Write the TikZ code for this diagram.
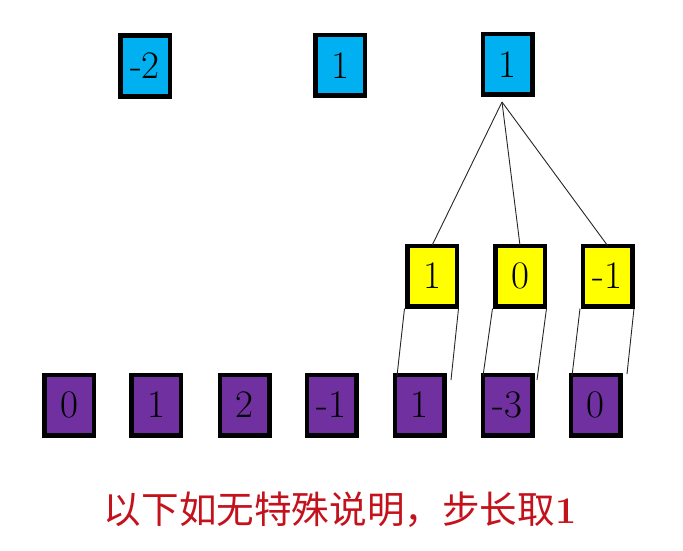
\documentclass[tikz,border=0pt]{standalone}
\usepackage{fontspec}
\newfontfamily\cjk{Noto Sans CJK SC}
\definecolor{topblue}{RGB}{0,176,240}
\definecolor{midyellow}{RGB}{255,255,0}
\definecolor{botpurple}{RGB}{112,48,160}
\definecolor{notered}{RGB}{196,18,28}
\begin{document}
\begin{tikzpicture}[x=1pt,y=-1pt,
  box/.style={draw=black,line width=4.5pt,minimum width=49.5pt,minimum height=60.5pt,inner sep=0pt,
    font=\fontsize{39}{41}\selectfont},
  bluebox/.style={box,fill=topblue},
  yellowbox/.style={box,fill=midyellow},
  purplebox/.style={box,fill=botpurple},
  link/.style={draw=black!85,line width=0.9pt}]
\useasboundingbox (0,0) rectangle (683,551);
% top row
\node[bluebox] (t1) at (145,66) {-2};
\node[bluebox] (t2) at (340,65.5) {1};
\node[bluebox] (t3) at (507.5,64.5) {1};
% middle row
\node[yellowbox] (y1) at (432,276) {1};
\node[yellowbox] (y2) at (520,276) {0};
\node[yellowbox] (y3) at (607.5,276) {-1};
% bottom row
\node[purplebox] (p1) at (69,405) {0};
\node[purplebox] (p2) at (156,405) {1};
\node[purplebox] (p3) at (244.5,405) {2};
\node[purplebox] (p4) at (331.5,405) {-1};
\node[purplebox] (p5) at (419.5,405) {1};
\node[purplebox] (p6) at (507.5,405) {-3};
\node[purplebox] (p7) at (595.5,405) {0};
% connectors
\coordinate (apex) at (502,102);
\coordinate (a1) at (397,376);
\coordinate (b1) at (451,380);
\coordinate (a2) at (483,376);
\coordinate (b2) at (537,380);
\coordinate (a3) at (572,376);
\coordinate (b3) at (627,374);
\draw[link] (apex) -- ([yshift=-2pt]y1.north);
\draw[link] (apex) -- ([yshift=-2pt]y2.north);
\draw[link] (apex) -- ([yshift=-2pt]y3.north);
\draw[link] ([xshift=-0.5pt]y1.south west) -- (a1);
\draw[link] ([xshift=-0.5pt]y1.south east) -- (b1);
\draw[link] ([xshift=-0.5pt]y2.south west) -- (a2);
\draw[link] ([xshift=-0.5pt]y2.south east) -- (b2);
\draw[link] ([xshift=-0.5pt]y3.south west) -- (a3);
\draw[link] ([xshift=-0.5pt]y3.south east) -- (b3);
% caption
\node[text=notered,inner sep=0pt] (cap) at (340,510)
  {\cjk\fontsize{37.6}{42}\selectfont 以下如无特殊说明，步长取{\normalfont\bfseries 1}};
\end{tikzpicture}
\end{document}
